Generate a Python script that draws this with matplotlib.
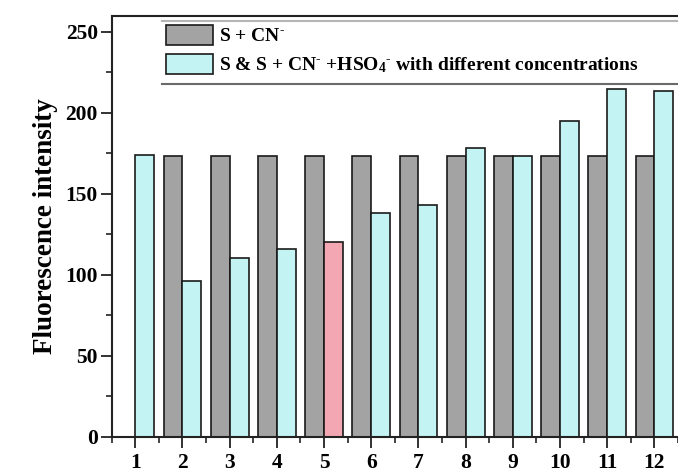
import matplotlib
matplotlib.use("Agg")
import matplotlib.pyplot as plt
from matplotlib.lines import Line2D
from matplotlib.patches import Patch
import numpy as np

# Data
groups = [1, 2, 3, 4, 5, 6, 7, 8, 9, 10, 11, 12]
s_cn = [None, 173.5, 173.5, 173.5, 173.5, 173.5, 173.5, 173.5, 173.5, 173.5, 173.5, 173.5]
s_cn_hso4 = [173.7, 96.4, 110.5, 116.0, 120.5, 138.3, 143.2, 178.3, 173.5, 194.7, 214.8, 213.3]
highlight_group = 5
legend_labels = [r"S + CN$^{\text{-}}$",
                 r"S & S + CN$^{\text{-}}$ +HSO$_{4}$$^{\text{-}}$ with different concentrations"]
ylabel = "Fluorescence intensity"

plt.rcParams["font.family"] = ["Liberation Serif", "DejaVu Serif"]
plt.rcParams["font.weight"] = "bold"
plt.rcParams["mathtext.fontset"] = "custom"
plt.rcParams["mathtext.rm"] = "Liberation Serif:bold"
plt.rcParams["mathtext.it"] = "Liberation Serif:bold"
plt.rcParams["mathtext.bf"] = "Liberation Serif:bold"

gray = "#a3a3a3"
cyan = "#c3f3f3"
pink = "#f2a7b2"
edge = "#1a1a1a"

fig = plt.figure(figsize=(6.78, 4.72), dpi=100)
ax = fig.add_axes([111.7 / 678, (472 - 436.7) / 472, 1 - 111.7 / 678, (436.7 - 15.7) / 472])

w = 0.4
gx = [g for g, v in zip(groups, s_cn) if v is not None]
gv = [v for v in s_cn if v is not None]
ax.bar(np.array(gx) - w / 2, gv, width=w, color=gray, edgecolor=edge, linewidth=1.2,
       zorder=2)
ccols = [pink if g == highlight_group else cyan for g in groups]
ax.bar(np.array(groups) + w / 2, s_cn_hso4, width=w, color=ccols, edgecolor=edge,
       linewidth=1.2, zorder=2)

ax.set_xlim(0.5, 12.36)
ax.set_ylim(0, 260)
ax.set_xticks(groups)
ax.set_xticks(np.arange(0.5, 12.6, 1.0), minor=True)
ax.set_yticks([0, 50, 100, 150, 200, 250])
ax.set_yticks(np.arange(25, 260, 50), minor=True)
ax.tick_params(axis="both", which="major", direction="out", length=8, width=1.3,
               labelsize=15.5, colors="#222222")
ax.tick_params(axis="both", which="minor", direction="out", length=4.5, width=1.2,
               colors="#222222")
ax.tick_params(axis="x", pad=4)
ax.tick_params(axis="y", pad=2)
for lab in ax.get_xticklabels() + ax.get_yticklabels():
    lab.set_fontweight("bold")
    lab.set_color("black")

ax.spines["right"].set_visible(False)
for s in ["left", "top", "bottom"]:
    ax.spines[s].set_linewidth(1.5)
    ax.spines[s].set_color("#222222")

ax.set_ylabel(ylabel, fontsize=19.5, fontweight="bold", labelpad=5)

handles = [Patch(facecolor=gray, edgecolor=edge, linewidth=1.2),
           Patch(facecolor=cyan, edgecolor=edge, linewidth=1.2)]
x0 = (162 - 111.7) / 566.3
ax.legend(handles, legend_labels, loc="upper left",
          bbox_to_anchor=(x0, (436.7 - 21) / 421.0),
          frameon=False, fontsize=14, handlelength=2.4, handleheight=1.2,
          handletextpad=0.35, labelspacing=0.45, borderpad=0.2, borderaxespad=0)

# legend separator lines
ax.add_line(Line2D([x0, 1], [(436.7 - 21) / 421.0] * 2, transform=ax.transAxes,
                   color="#b5b5b5", linewidth=1.5, clip_on=False))
ax.add_line(Line2D([x0, 1], [(436.7 - 84) / 421.0] * 2, transform=ax.transAxes,
                   color="#6a6a6a", linewidth=1.5, clip_on=False))

fig.savefig("out.png", dpi=100)
